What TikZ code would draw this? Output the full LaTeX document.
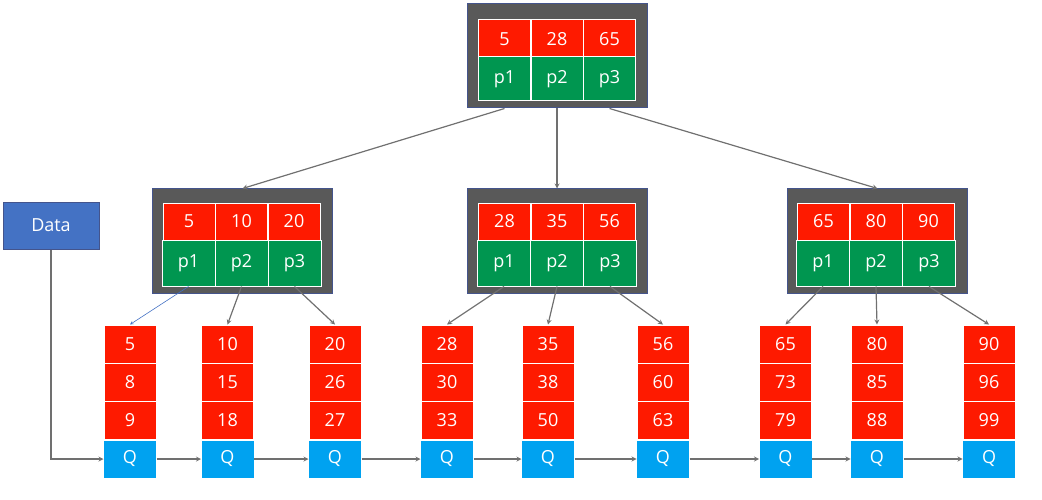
\documentclass[tikz,border=0pt]{standalone}
\usepackage{fontspec}
\setmainfont{Open Sans}
\usepackage{tikz}
\usepackage{xcolor}
\usetikzlibrary{
    arrows,
    calc,
    positioning
}
\definecolor{keyred}{RGB}{254,26,0}
\definecolor{ptrgreen}{RGB}{0,150,80}
\definecolor{qblue}{RGB}{0,162,240}
\definecolor{framegray}{RGB}{89,89,89}
\definecolor{frameedge}{RGB}{68,84,140}
\definecolor{datablue}{RGB}{68,114,196}
\definecolor{linkgray}{RGB}{112,112,112}

\tikzset{
    cell/.style={draw=white, line width=1pt, inner sep=0pt, text=white,
        font=\fontsize{18}{21}\selectfont, minimum width=52pt},
    keycell/.style={cell, fill=keyred, minimum height=38pt},
    ptrcell/.style={cell, fill=ptrgreen, minimum height=44pt},
    leafcell/.style={cell, fill=keyred, minimum height=38pt},
    qcell/.style={cell, fill=qblue, draw=none, minimum height=37pt},
    framebox/.style={draw=frameedge, fill=framegray, line width=1pt,
        minimum width=180pt, minimum height=104pt, inner sep=0pt},
    link/.style={draw=linkgray, line width=1.2pt, -stealth},
}

\begin{document}
\begin{tikzpicture}[x=1pt, y=-1pt]
    \useasboundingbox (0, 0) rectangle (1042, 500);

    % frames
    \node[framebox] (rootbox) at (557, 56) {};
    \node[framebox] (lbox) at (242.5, 241) {};
    \node[framebox] (mbox) at (557, 241) {};
    \node[framebox] (rbox) at (877.5, 241) {};

    % root
    \node[keycell] (tk1) at (504.5, 39) {5};
    \node[keycell] (tk2) at (557, 39) {28};
    \node[keycell] (tk3) at (609.5, 39) {65};
    \node[ptrcell] (tp1) at (504.5, 79) {p1};
    \node[ptrcell] (tp2) at (557, 79) {p2};
    \node[ptrcell] (tp3) at (609.5, 79) {p3};

    % second level
    \foreach \nm/\cx/\ka/\kb/\kc in {l/241.5/5/10/20, m/557/28/35/56, r/876/65/80/90}{
        \node[keycell, minimum height=37pt] (\nm k1) at (\cx-52.5, 221.5) {\ka};
        \node[keycell, minimum height=37pt] (\nm k2) at (\cx, 221.5) {\kb};
        \node[keycell, minimum height=37pt] (\nm k3) at (\cx+52.5, 221.5) {\kc};
        \node[ptrcell, minimum height=46pt, minimum width=53pt] (\nm p1) at (\cx-53, 263) {p1};
        \node[ptrcell, minimum height=46pt, minimum width=53pt] (\nm p2) at (\cx, 263) {p2};
        \node[ptrcell, minimum height=46pt, minimum width=53pt] (\nm p3) at (\cx+53, 263) {p3};
    }

    % leaves
    \foreach \n/\cx/\va/\vb/\vc in {1/130/5/8/9, 2/227.5/10/15/18, 3/335/20/26/27,
        4/447/28/30/33, 5/548/35/38/50, 6/663/56/60/63,
        7/785.5/65/73/79, 8/877/80/85/88, 9/989/90/96/99}{
        \node[leafcell] (a\n) at (\cx, 344) {\va};
        \node[leafcell] (b\n) at (\cx, 382) {\vb};
        \node[leafcell] (c\n) at (\cx, 420) {\vc};
        \node[qcell] (q\n) at (\cx, 459) {Q};
    }

    \node[draw=frameedge, fill=datablue, text=white, line width=1pt,
        minimum width=96pt, minimum height=47pt, inner sep=0pt,
        font=\fontsize{18}{21}\selectfont] (data) at (51, 225.5) {Data};

    % root -> second level
    \draw[link] (rootbox.south -| tp1) -- (lbox.north);
    \draw[link] (rootbox.south -| tp2) -- (mbox.north);
    \draw[link] (rootbox.south -| tp3) -- (rbox.north);

    % second level -> leaves
    \draw[link, draw=datablue, line width=0.6pt] (lp1.south) -- (a1.north);
    \draw[link] (lp2.south) -- (a2.north);
    \draw[link] (lp3.south) -- (a3.north);
    \draw[link] (mp1.south) -- (a4.north);
    \draw[link] (mp2.south) -- (a5.north);
    \draw[link] (mp3.south) -- (a6.north);
    \draw[link] (rp1.south) -- (a7.north);
    \draw[link] (rp2.south) -- (a8.north);
    \draw[link] (rp3.south) -- (a9.north);

    % leaf chain
    \draw[link] (data.south) |- (q1.west);
    \foreach \i [evaluate=\i as \j using int(\i+1)] in {1,...,8}
        \draw[link] (q\i.east) -- (q\j.west);
\end{tikzpicture}
\end{document}
